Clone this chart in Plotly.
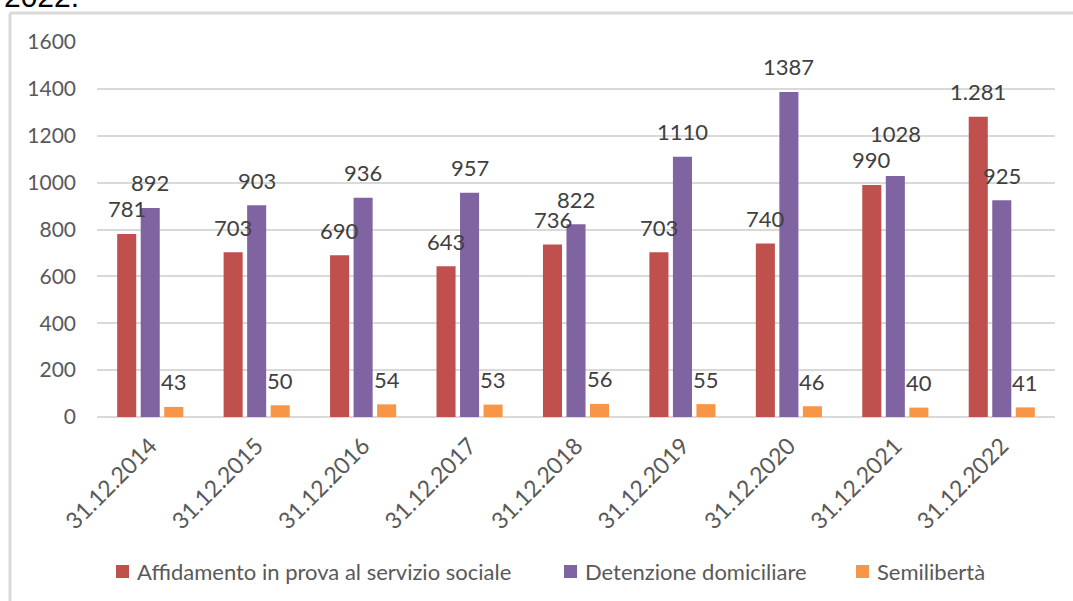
import plotly.graph_objects as go

# dati
dates = ["31.12.2014", "31.12.2015", "31.12.2016", "31.12.2017", "31.12.2018",
         "31.12.2019", "31.12.2020", "31.12.2021", "31.12.2022"]
affidamento = [781, 703, 690, 643, 736, 703, 740, 990, 1281]
detenzione = [892, 903, 936, 957, 822, 1110, 1387, 1028, 925]
semiliberta = [43, 50, 54, 53, 56, 55, 46, 40, 41]
affidamento_text = ["781", "703", "690", "643", "736", "703", "740", "990", "1.281"]
y_ticks = [0, 200, 400, 600, 800, 1000, 1200, 1400, 1600]

series = [
    ("Affidamento in prova al servizio sociale", affidamento, affidamento_text, "#C0504D"),
    ("Detenzione domiciliare", detenzione, [str(v) for v in detenzione], "#8064A2"),
    ("Semilibertà", semiliberta, [str(v) for v in semiliberta], "#F79646"),
]
FONT = "Lato"
W, H = 1073, 601
L, R, T, B = 97, 18, 42, 184


def px(x):
    return (x - L) / (W - L - R)


def py(y):
    return (H - B - y) / (H - T - B)


fig = go.Figure()
for name, vals, txt, col in series:
    fig.add_trace(go.Bar(x=dates, y=vals, name=name, marker_color=col,
                         marker_line_width=0, showlegend=False))

# etichette dati sopra le barre
xshift = [-23.5, 0, 23.5]
nudge = {(1, 7): 18}  # 1028 sta piu in alto nell'originale
for s, (name, vals, txt, col) in enumerate(series):
    for i, d in enumerate(dates):
        fig.add_annotation(x=d, y=vals[i], text=txt[i], showarrow=False,
                           xshift=xshift[s], yshift=25 + nudge.get((s, i), 0),
                           yanchor="middle", xanchor="center",
                           font=dict(family=FONT, size=22, color="#404040"))

# legenda disegnata a mano (spaziatura tipo Excel)
legend_x = [116, 564, 856]
for (name, vals, txt, col), lx in zip(series, legend_x):
    fig.add_shape(type="rect", xref="paper", yref="paper",
                  x0=px(lx), x1=px(lx + 13), y0=py(565), y1=py(578),
                  fillcolor=col, line_width=0)
    fig.add_annotation(xref="paper", yref="paper", x=px(lx + 19), y=py(571),
                       text=name, showarrow=False, xanchor="left", yanchor="middle",
                       font=dict(family=FONT, size=22, color="#595959"))

# titolo tagliato in alto
fig.add_annotation(xref="paper", yref="paper", x=px(2), y=py(-3), text="2022.",
                   showarrow=False, xanchor="left", yanchor="middle",
                   font=dict(family="Liberation Sans", size=30, color="#000000"))

# cornice del grafico
fig.add_shape(type="line", xref="paper", yref="paper", x0=px(10), x1=px(1080),
              y0=py(13), y1=py(13), line=dict(color="#D9D9D9", width=3))
fig.add_shape(type="line", xref="paper", yref="paper", x0=px(10), x1=px(10),
              y0=py(13), y1=py(610), line=dict(color="#D9D9D9", width=3))

fig.update_layout(
    width=W, height=H,
    margin=dict(l=L, r=R, t=T, b=B),
    paper_bgcolor="white", plot_bgcolor="white",
    barmode="group", bargap=0.337, bargroupgap=0.19,
    font=dict(family=FONT, size=20, color="#595959"),
    showlegend=False,
)
fig.update_xaxes(tickangle=-45, showgrid=False, showline=False, ticks="",
                 ticklabelstandoff=10,
                 tickfont=dict(family=FONT, size=23, color="#595959"))
fig.update_yaxes(range=[0, 1600], tickvals=y_ticks, showgrid=True,
                 gridcolor="#D9D9D9", gridwidth=1.5, zeroline=True,
                 zerolinecolor="#D9D9D9", zerolinewidth=1.5, ticks="",
                 ticklabelstandoff=20,
                 tickfont=dict(family=FONT, size=21, color="#595959"))

# niente margine della pagina, cosi il grafico parte dall'angolo
fig.write_html("out.html", config={"displayModeBar": False},
               post_script="document.body.style.margin='0';")
